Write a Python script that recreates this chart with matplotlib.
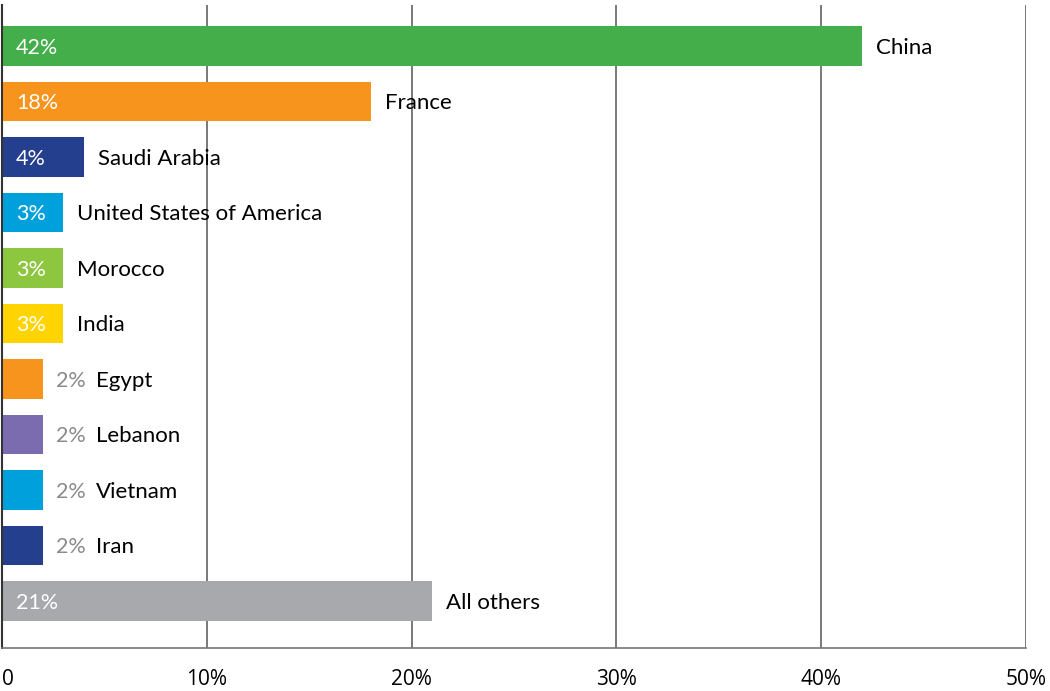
import matplotlib.pyplot as plt

countries = ["China", "France", "Saudi Arabia", "United States of America", "Morocco",
             "India", "Egypt", "Lebanon", "Vietnam", "Iran", "All others"]
shares = [42, 18, 4, 3, 3, 3, 2, 2, 2, 2, 21]
colors = ["#43ae4a", "#f7941e", "#253f8f", "#00a0dc", "#8dc63f", "#ffd400",
          "#f7941e", "#7b6baf", "#00a0dc", "#253f8f", "#a7a9ac"]
ticks = [0, 10, 20, 30, 40, 50]
tick_labels = ["0", "10%", "20%", "30%", "40%", "50%"]

label_font = "Lato"

fig = plt.figure(figsize=(10.5, 6.91), dpi=100)
ax = fig.add_axes([2 / 1050, 1 - 648 / 691, 1024 / 1050, 643 / 691])

ax.set_xlim(0, 50)
ax.set_ylim(10.85, -0.74)

for x in ticks[1:]:
    ax.axvline(x, color="#555555", lw=1.1, zorder=0)

y = list(range(len(countries)))
ax.barh(y, shares, height=0.71, color=colors, zorder=2)

for i, (name, val) in enumerate(zip(countries, shares)):
    if val >= 3:
        ax.annotate(f"{val}%", (0, i), xytext=(10, -1.2), textcoords="offset points",
                    va="center", ha="left", color="white", fontsize=15.5,
                    family=label_font, zorder=3)
        ax.annotate(name, (val, i), xytext=(10, -1.2), textcoords="offset points",
                    va="center", ha="left", color="black", fontsize=16,
                    family=label_font, zorder=3)
    else:
        ax.annotate(f"{val}%", (val, i), xytext=(9.5, -1.2), textcoords="offset points",
                    va="center", ha="left", color="#8a8a8a", fontsize=15.5,
                    family=label_font, zorder=3)
        ax.annotate(name, (val, i), xytext=(38, -1.2), textcoords="offset points",
                    va="center", ha="left", color="black", fontsize=16,
                    family=label_font, zorder=3)

ax.set_xticks(ticks)
ax.set_xticklabels(tick_labels, fontsize=15, family="Open Sans")
ax.set_yticks([])
ax.tick_params(axis="x", length=0, pad=15)
ax.get_xticklabels()[0].set_ha("left")

for side in ["top", "right"]:
    ax.spines[side].set_visible(False)
ax.spines["left"].set_color("#333333")
ax.spines["left"].set_linewidth(1.5)
ax.spines["bottom"].set_color("#777777")
ax.spines["bottom"].set_linewidth(1.2)

fig.savefig("out.png", dpi=100)
